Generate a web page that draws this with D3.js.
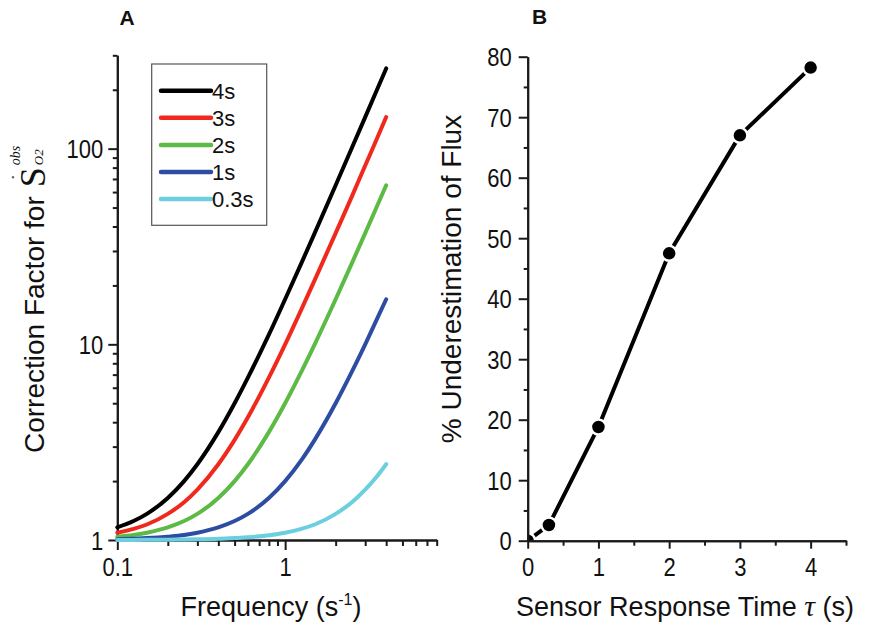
<!DOCTYPE html>
<html><head><meta charset="utf-8">
<script src="https://cdn.jsdelivr.net/npm/d3@7"></script>
<style>
body{margin:0;background:#fff}
text{font-family:"Liberation Sans",Arial,Helvetica,sans-serif;fill:#111}
</style>
</head><body>
<svg id="c" width="869" height="627"></svg>
<script>
// ---------- DATA ----------
// Panel A: correction factor vs frequency, one series per sensor response time
const freq   = [0.1, 0.125, 0.15, 0.2, 0.25, 0.3, 0.4, 0.5, 0.6, 0.8, 1, 1.25, 1.5, 2, 2.5, 3, 3.5, 4];
const cf4s   = [1.16, 1.25, 1.36, 1.64, 2.0, 2.44, 3.56, 5.0, 6.76, 11.2, 17, 26, 37, 65, 101, 145, 197, 257];
const cf3s   = [1.09, 1.14, 1.20, 1.36, 1.56, 1.81, 2.44, 3.25, 4.24, 6.76, 10, 15.1, 21.3, 37, 57, 82, 111, 145];
const cf2s   = [1.04, 1.06, 1.09, 1.16, 1.25, 1.36, 1.64, 2.0, 2.44, 3.56, 5.0, 7.25, 10, 17, 26, 37, 50, 65];
const cf1s   = [1.01, 1.016, 1.023, 1.04, 1.06, 1.09, 1.16, 1.25, 1.36, 1.64, 2.0, 2.56, 3.25, 5.0, 7.25, 10, 13.3, 17];
const cf03s  = [1.001, 1.001, 1.002, 1.004, 1.006, 1.008, 1.014, 1.023, 1.032, 1.058, 1.09, 1.14, 1.20, 1.36, 1.56, 1.81, 2.10, 2.44];
const seriesNames  = ["4s", "3s", "2s", "1s", "0.3s"];
const seriesValues = [cf4s, cf3s, cf2s, cf1s, cf03s];
const seriesColors = ["#000000", "#f0291d", "#5cba45", "#2d4da2", "#6ccfe0"];
const xTicksA = [0.1, 1];
const yTicksA = [1, 10, 100];

// Panel B: % underestimation of flux vs sensor response time
const tauB   = [0, 0.3, 1, 2, 3, 4];
const underB = [0, 2.6, 18.8, 47.5, 67.0, 78.2];
const xTicksB = [0, 1, 2, 3, 4];
const yTicksB = [0, 10, 20, 30, 40, 50, 60, 70, 80];

// ---------- SETUP ----------
const svg = d3.select("#c");
const AX = "#1a1a1a";
const SERIF = "'Liberation Serif','Times New Roman',serif";

function styleAxis(g) {
  g.select(".domain").attr("stroke", AX).attr("stroke-width", 2);
  g.selectAll(".tick line").attr("stroke", AX).attr("stroke-width", 2);
}

// ---------- PANEL A ----------
const xA = d3.scaleLog().domain([0.1, 8]).range([117.3, 436.7]);
const yA = d3.scaleLog().domain([1, 300]).range([540, 55.3]);

const minorXA = [0.2,0.3,0.4,0.5,0.6,0.7,0.8,0.9,2,3,4,5,6,7,8];
const minorYA = [2,3,4,5,6,7,8,9,20,30,40,50,60,70,80,90,200,300];

svg.append("g").attr("transform", `translate(0,${yA(1)})`)
  .call(d3.axisBottom(xA).tickValues(minorXA).tickSize(6).tickSizeOuter(0).tickFormat(""))
  .call(styleAxis);
const gxA = svg.append("g").attr("transform", `translate(0,${yA(1)})`)
  .call(d3.axisBottom(xA).tickValues(xTicksA).tickSize(10).tickSizeOuter(0).tickFormat(d => String(d)))
  .call(styleAxis);
gxA.selectAll(".tick text").attr("y", 18).attr("dy", "0.72em")
  .attr("font-size", 25).attr("transform", "scale(0.88,1)");

svg.append("g").attr("transform", `translate(${xA(0.1)},0)`)
  .call(d3.axisLeft(yA).tickValues(minorYA).tickSize(4.5).tickSizeOuter(0).tickFormat(""))
  .call(styleAxis);
const gyA = svg.append("g").attr("transform", `translate(${xA(0.1)},0)`)
  .call(d3.axisLeft(yA).tickValues(yTicksA).tickSize(9).tickSizeOuter(0).tickFormat(d => String(d)))
  .call(styleAxis);
gyA.selectAll(".tick text").attr("x", -14 / 0.88).attr("dy", "0.36em")
  .attr("font-size", 25).attr("transform", "scale(0.88,1)");

const lineA = d3.line().x(d => xA(d[0])).y(d => yA(d[1])).curve(d3.curveMonotoneX);
seriesValues.forEach((vals, i) => {
  svg.append("path")
    .datum(freq.map((f, j) => [f, vals[j]]))
    .attr("d", lineA).attr("fill", "none")
    .attr("stroke", seriesColors[i]).attr("stroke-width", 4)
    .attr("stroke-linecap", "round").attr("stroke-linejoin", "round");
});

// legend
const leg = svg.append("g");
leg.append("rect").attr("x", 151.7).attr("y", 64).attr("width", 115).attr("height", 161.3)
  .attr("fill", "#fff").attr("stroke", "#555").attr("stroke-width", 1.2);
seriesNames.forEach((n, i) => {
  const y = 90.7 + i * 27.1;
  leg.append("line").attr("x1", 161).attr("x2", 211).attr("y1", y).attr("y2", y)
    .attr("stroke", seriesColors[i]).attr("stroke-width", 4.5).attr("stroke-linecap", "round");
  leg.append("text").attr("x", 212).attr("y", y + 8).attr("font-size", 22).text(n);
});

// panel label A
svg.append("text").attr("x", 127).attr("y", 25).attr("text-anchor", "middle")
  .attr("font-size", 21).attr("font-weight", "bold").text("A");

// x title A
const xtA = svg.append("text").attr("x", 271).attr("y", 616).attr("text-anchor", "middle")
  .attr("font-size", 27);
xtA.append("tspan").text("Frequency (s");
xtA.append("tspan").attr("font-size", 16).attr("dy", -11).text("-1");
xtA.append("tspan").attr("dy", 11).text(")");

// y title A (rotated) with S-dot obs O2
const ytA = svg.append("g").attr("transform", "translate(44,453) rotate(-90)");
const t1 = ytA.append("text").attr("x", 0).attr("y", 0).attr("font-size", 28).text("Correction Factor for");
const L = t1.node().getComputedTextLength();
const sx = L + 9;
const sT = ytA.append("text").attr("x", sx).attr("y", 1)
  .style("font-family", SERIF).attr("font-size", 36).text("S");
const sw = sT.node().getComputedTextLength();
ytA.append("circle").attr("cx", sx + sw / 2).attr("cy", -31).attr("r", 1.2).attr("fill", "#666");
ytA.append("text").attr("x", sx + sw + 2).attr("y", -24)
  .style("font-family", SERIF).attr("font-style", "italic")
  .attr("font-size", 14).text("obs");
ytA.append("text").attr("x", sx + sw + 2).attr("y", -1)
  .style("font-family", SERIF).attr("font-style", "italic")
  .attr("font-size", 13).text("O2");

// ---------- PANEL B ----------
const xB = d3.scaleLinear().domain([0, 4.5]).range([527.7, 846]);
const yB = d3.scaleLinear().domain([0, 80]).range([540.7, 56.7]);

const clip = svg.append("clipPath").attr("id", "clipB");
clip.append("rect").attr("x", xB(0)).attr("y", 0).attr("width", 400).attr("height", yB(0));

const lineB = d3.line().x((d, i) => xB(tauB[i])).y(d => yB(d));
svg.append("path").datum(underB).attr("d", lineB).attr("fill", "none")
  .attr("stroke", "#000").attr("stroke-width", 4).attr("stroke-linejoin", "round")
  .attr("clip-path", "url(#clipB)");
svg.append("g").attr("clip-path", "url(#clipB)")
  .selectAll("circle").data(underB).join("circle")
  .attr("cx", (d, i) => xB(tauB[i])).attr("cy", d => yB(d)).attr("r", 7.5)
  .attr("fill", "#000").attr("stroke", "#fff").attr("stroke-width", 2.5);

svg.append("g").attr("transform", `translate(0,${yB(0)})`)
  .call(d3.axisBottom(xB).tickValues([0.5,1.5,2.5,3.5,4.5]).tickSize(5).tickSizeOuter(0).tickFormat(""))
  .call(styleAxis);
const gxB = svg.append("g").attr("transform", `translate(0,${yB(0)})`)
  .call(d3.axisBottom(xB).tickValues(xTicksB).tickSize(8).tickSizeOuter(0).tickFormat(d => String(d)))
  .call(styleAxis);
gxB.selectAll(".tick text").attr("y", 17).attr("dy", "0.72em")
  .attr("font-size", 25).attr("transform", "scale(0.88,1)");

svg.append("g").attr("transform", `translate(${xB(0)},0)`)
  .call(d3.axisLeft(yB).tickValues([5,15,25,35,45,55,65,75]).tickSize(4).tickSizeOuter(0).tickFormat(""))
  .call(styleAxis);
const gyB = svg.append("g").attr("transform", `translate(${xB(0)},0)`)
  .call(d3.axisLeft(yB).tickValues(yTicksB).tickSize(9).tickSizeOuter(0).tickFormat(d => String(d)))
  .call(styleAxis);
gyB.selectAll(".tick text").attr("x", -16 / 0.88).attr("dy", "0.36em")
  .attr("font-size", 25).attr("transform", "scale(0.88,1)");

svg.append("text").attr("x", 539.5).attr("y", 24).attr("text-anchor", "middle")
  .attr("font-size", 21).attr("font-weight", "bold").text("B");

const xtB = svg.append("text").attr("x", 685).attr("y", 616).attr("text-anchor", "middle").attr("font-size", 27);
xtB.append("tspan").text("Sensor Response Time ");
xtB.append("tspan").style("font-family", SERIF)
  .attr("font-style", "italic").attr("font-size", 30).text("τ");
xtB.append("tspan").text(" (s)");

svg.append("text").attr("transform", `translate(461,279) rotate(-90)`)
  .attr("text-anchor", "middle").attr("font-size", 28).text("% Underestimation of Flux");
</script>
</body></html>
